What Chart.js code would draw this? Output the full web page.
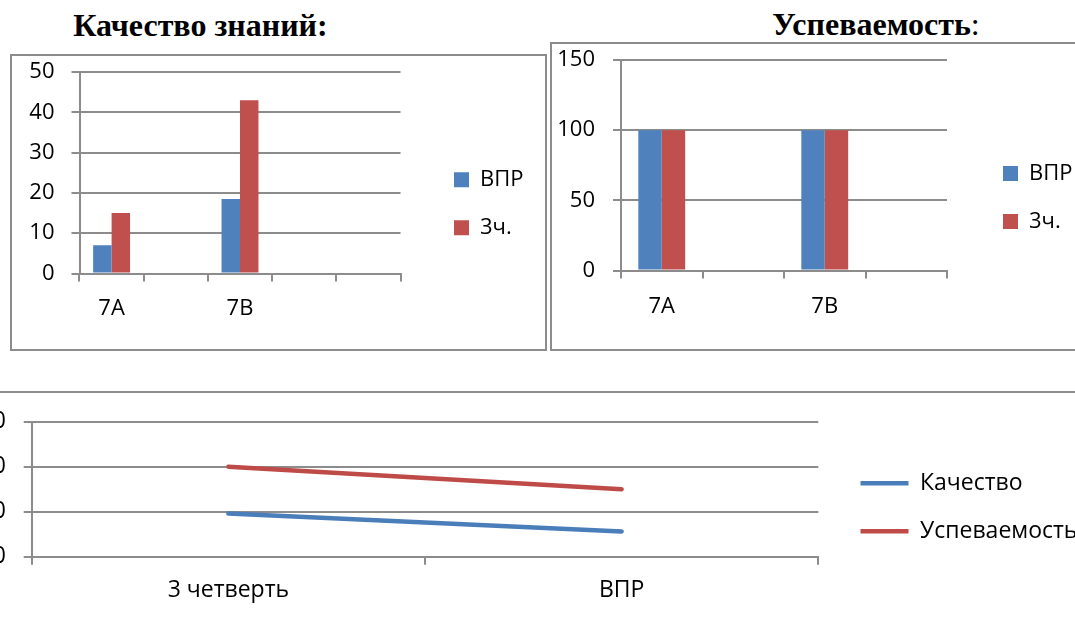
<!DOCTYPE html>
<html>
<head>
<meta charset="utf-8">
<script src="https://cdn.jsdelivr.net/npm/chart.js@4"></script>
<style>
  html, body { margin: 0; padding: 0; background: #fff; }
  body { width: 1075px; height: 618px; position: relative; overflow: hidden; }
  .frame { position: absolute; box-sizing: border-box; border: 2px solid #8c8c8c; }
  .title { position: absolute; font-family: "Liberation Serif", "Times New Roman", serif; font-weight: bold;
           font-size: 32px; line-height: 32px; text-align: center; color: #000; white-space: nowrap; }
  canvas { position: absolute; }
</style>
</head>
<body>
<div class="title" style="left:0px; top:9px; width:401px;">Качество знаний:</div>
<div class="title" style="left:676px; top:8px; width:400px;">Успеваемость<span style="font-weight:normal">:</span></div>

<div class="frame" style="left:10px; top:54px; width:537px; height:297px;"></div>
<div class="frame" style="left:550px; top:42px; width:540px; height:309px;"></div>
<div class="frame" style="left:-20px; top:391px; width:1120px; height:260px;"></div>

<canvas id="c1" width="534" height="293" style="left:12px; top:56px;"></canvas>
<canvas id="c2" width="523" height="305" style="left:552px; top:44px;"></canvas>
<canvas id="c3" width="1075" height="225" style="left:0px; top:393px;"></canvas>

<script>
// ---- data ----
const classes1 = ["7А", "", "7В", "", ""];
const quality_vpr = [7, null, 18.5, null, null];
const quality_q3 = [15, null, 43, null, null];

const classes2 = ["7А", "", "7В", ""];
const progress_vpr = [100, null, 100, null];
const progress_q3 = [100, null, 100, null];

const periods = ["3 четверть", "ВПР"];
const kachestvo = [48, 28];
const uspevaemost = [100, 75];

const seriesNames = ["ВПР", "3ч."];
const lineNames = ["Качество", "Успеваемость"];

// ---- style ----
const BLUE = "#4F81BD", RED = "#C0504D";
const LBLUE = "#4A7EBB", LRED = "#BE4B48";
const GRID = "#8c8c8c";
const FONT = "Open Sans";

// place legend precisely (box left x, first item top y in canvas px)
const placeLegend = {
  id: "placeLegend",
  afterLayout(chart, args, opts) {
    const lg = chart.legend;
    if (!lg || opts.x === undefined) return;
    const pad = lg.options.labels.padding;
    lg.left = opts.x - pad;
    lg.width = 400;
    lg.right = lg.left + lg.width;
    lg.top = opts.y - pad;
    lg.height = 300;
    lg.bottom = lg.top + lg.height;
  }
};

function fixY(w) {
  return (s) => { s.width = w; s.paddingTop = 0; s.paddingBottom = 0; };
}
function fixX(h) {
  return (s) => { s.height = h; s.paddingLeft = 0; s.paddingRight = 0; };
}

function barChart(id, labels, a, b, cfg) {
  new Chart(document.getElementById(id), {
    type: "bar",
    data: {
      labels: labels,
      datasets: [
        { label: seriesNames[0], data: a, backgroundColor: BLUE },
        { label: seriesNames[1], data: b, backgroundColor: RED }
      ]
    },
    plugins: [placeLegend],
    options: {
      responsive: false, animation: false, devicePixelRatio: 1,
      layout: { padding: cfg.padding },
      datasets: { bar: { categoryPercentage: 0.575, barPercentage: 1.0 } },
      scales: {
        x: {
          grid: { drawOnChartArea: false, color: GRID, lineWidth: 2, tickLength: 8, offset: true },
          border: { color: GRID, width: 2 },
          ticks: { color: "#000", font: { family: FONT, size: 22 }, padding: cfg.xPad, autoSkip: false, maxRotation: 0 },
          afterFit: fixX(cfg.xH)
        },
        y: {
          min: 0, max: cfg.max,
          grid: { color: GRID, lineWidth: 2, tickLength: 8 },
          border: { color: GRID, width: 2 },
          ticks: { stepSize: cfg.step, color: "#000", font: { family: FONT, size: 22 }, padding: cfg.yPad },
          afterFit: fixY(cfg.yW)
        }
      },
      plugins: {
        tooltip: { enabled: false },
        legend: {
          position: "right", align: "start", maxWidth: 1,
          labels: { boxWidth: 15, boxHeight: 15, padding: 26, color: "#000", font: { family: FONT, size: 22 } }
        },
        placeLegend: cfg.legend
      }
    }
  });
}

barChart("c1", classes1, quality_vpr, quality_q3, {
  padding: { left: 0, top: 16, right: 144.5, bottom: 15.5 },
  xH: 60, yW: 67.5, xPad: 14, yPad: 17, max: 50, step: 10,
  legend: { x: 442, y: 112.7 }
});

barChart("c2", classes2, progress_vpr, progress_q3, {
  padding: { left: 0, top: 16, right: 127, bottom: 18.5 },
  xH: 60, yW: 69, xPad: 15, yPad: 18, max: 150, step: 50,
  legend: { x: 451, y: 118.5 }
});

new Chart(document.getElementById("c3"), {
  type: "line",
  data: {
    labels: periods,
    datasets: [
      { label: lineNames[0], data: kachestvo, borderColor: LBLUE, backgroundColor: LBLUE,
        borderWidth: 4.5, borderCapStyle: "round", pointRadius: 0, tension: 0 },
      { label: lineNames[1], data: uspevaemost, borderColor: LRED, backgroundColor: LRED,
        borderWidth: 4.5, borderCapStyle: "round", pointRadius: 0, tension: 0 }
    ]
  },
  plugins: [placeLegend],
  options: {
    responsive: false, animation: false, devicePixelRatio: 1,
    layout: { padding: { left: 0, top: 28.7, right: 255.7, bottom: 11.3 } },
    scales: {
      x: {
        offset: true,
        grid: { drawOnChartArea: false, color: GRID, lineWidth: 2, tickLength: 8, offset: true },
        border: { color: GRID, width: 2 },
        ticks: { color: "#000", font: { family: FONT, size: 23 }, padding: 12, autoSkip: false, maxRotation: 0 },
        afterFit: fixX(50)
      },
      y: {
        min: 0, max: 150,
        grid: { color: GRID, lineWidth: 2, tickLength: 8 },
        border: { color: GRID, width: 2 },
        ticks: { stepSize: 50, color: "#000", font: { family: FONT, size: 23 }, padding: 17.7 },
        afterFit: fixY(31.7)
      }
    },
    plugins: {
      tooltip: { enabled: false },
      legend: {
        position: "right", align: "start", maxWidth: 1,
        labels: { usePointStyle: true, pointStyle: "line", pointStyleWidth: 48,
                  padding: 25, color: "#000", font: { family: FONT, size: 23 } }
      },
      placeLegend: { x: 860.5, y: 78.8 }
    }
  }
});
</script>
</body>
</html>
